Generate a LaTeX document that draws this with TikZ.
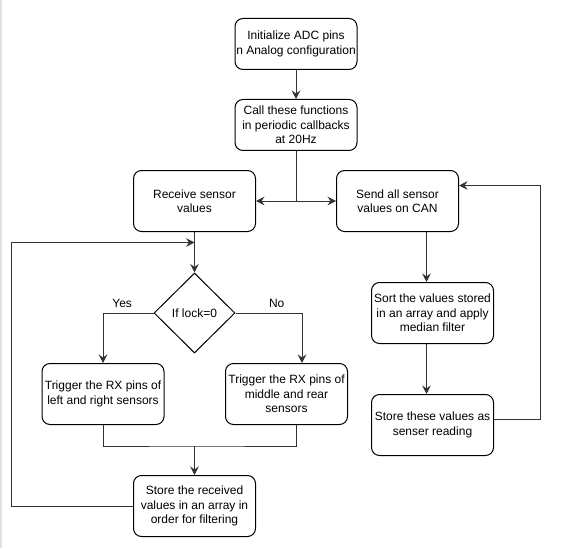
\documentclass[tikz,border=0pt]{standalone}
\usepackage{fontspec}
\setmainfont{Liberation Sans}
\usepackage{tikz}
\usetikzlibrary{shapes.geometric, positioning, arrows.meta}
\newcommand{\boxcolor}{white}
\newcommand{\linecolor}{black!80}
\newcommand{\flowfont}{\fontsize{12pt}{14.5pt}\selectfont}
\tikzstyle{process} = [rectangle, rounded corners=8pt,
minimum width=122pt,
minimum height=61pt,
inner sep=1pt,
align=center,
font=\flowfont,
draw=black, line width=1pt,
fill=\boxcolor]
\tikzstyle{startbox} = [process, minimum height=51pt]
\tikzstyle{decision} = [diamond, aspect=1,
minimum width=81pt,
minimum height=80pt,
inner sep=0pt,
font=\flowfont,
draw=black, line width=1pt,
fill=\boxcolor]
\tikzstyle{line} = [line width=1pt, draw=\linecolor]
\tikzstyle{arrow} = [line, -{Stealth[length=8.5pt, width=8.5pt, inset=3pt]}]
\tikzstyle{branch} = [font=\flowfont, above=4pt, inner sep=1.5pt, text depth=0pt]

\begin{document}
\begin{tikzpicture}[node distance=81pt]
\useasboundingbox (0pt,0pt) rectangle (588pt,-548pt);
\fill [black!12] (0pt,0pt) rectangle (2pt,-548pt);

%-----------setup
\node (init) [startbox] at (296pt,-44pt) {Initialize ADC pins\\n Analog configuration};
\node (call) [startbox, below of=init] {Call these functions\\in periodic callbacks\\at 20Hz};

%-----------two tasks
\node (recv) [process, below of=call, xshift=-101.5pt, yshift=5pt] {Receive sensor\\values};
\node (send) [process, right of=recv, xshift=122pt] {Send all sensor\\values on CAN};

%-----------the lock test
\node (lock) [decision, below of=recv, yshift=-31pt] {If lock=0};
\node (trigL) [process, below of=lock, xshift=-91.5pt] {Trigger the RX pins of\\left and right sensors};
\node (trigR) [process, right of=trigL, xshift=102.5pt] {Trigger the RX pins of\\middle and rear\\sensors};
\node (store) [process, below of=lock, yshift=-112pt] {Store the received\\values in an array in\\order for filtering};

%-----------filtering
\node (sort) [process, right of=lock, xshift=157pt] {Sort the values stored\\in an array and apply\\median filter};
\node (storeval) [process, below of=sort, yshift=-31pt] {Store these values as\\senser reading};

%-----------helper points
\coordinate (sortin) at ([xshift=-6pt]sort.north);
\path (recv.south) ++(0,-10.5pt) coordinate (loopin);
\path (trigL.south -| store.north) ++(0,-21pt) coordinate (join);

\draw [arrow] (init) -- (call);
\draw [line] (call.south) -- (call.south |- recv.east) coordinate (split);
\draw [arrow] (split) -- (recv.east);
\draw [arrow] (split) -- (send.west);
\draw [arrow] (recv) -- (lock);
\draw [arrow] (lock.west) -| node[branch, pos=0.31] {Yes} (trigL.north);
\draw [arrow] (lock.east) -| node[branch, pos=0.31] {No} ([xshift=15.5pt]trigR.north);
\draw [line] (trigL.south) |- (join) -| ([xshift=9.5pt]trigR.south);
\draw [arrow] (join) -- (store);
\draw [arrow] (store.west) -- ++(-121.7pt,0) |- (loopin);
\draw [arrow] (send.south -| sortin) -- (sortin);
\draw [arrow] ([xshift=-6pt]sort.south) -- ([xshift=-6pt]storeval.north);
\draw [arrow] ([yshift=6pt]storeval.east) -- ++(46pt,0) |- ([yshift=15.5pt]send.east);

\end{tikzpicture}
\end{document}
